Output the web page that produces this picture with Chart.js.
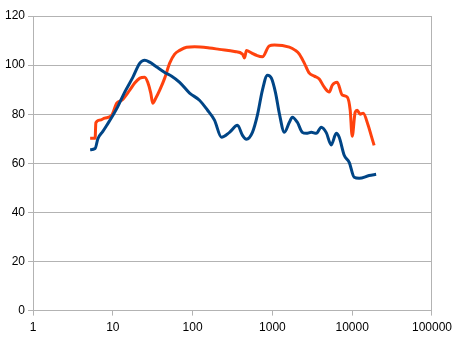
<!DOCTYPE html>
<html>
<head>
<meta charset="utf-8">
<script src="https://cdn.jsdelivr.net/npm/chart.js@4"></script>
<style>
  html, body { margin: 0; padding: 0; background: #fff; }
  #wrap { width: 457px; height: 340px; position: relative; }
</style>
</head>
<body>
<div id="wrap"><canvas id="chart"></canvas></div>
<script>
// frequency (x) / level (y) pairs
const blueFreq = [5.2, 6.0, 6.5, 7.5, 8.4, 9.2, 11.5, 14.1, 17.8, 21.8, 25.1, 29.0, 35.5, 44.7, 54.7, 68.8, 91.7, 122, 154, 188, 230, 290, 365, 422, 473, 562, 649, 750, 866, 972, 1097, 1220, 1413, 1632, 1778, 2054, 2371, 2660, 3073, 3548, 4097, 4732, 5464, 6310, 6879, 7943, 9173, 10593, 12232, 16312, 19953];
const blueValues = [65.5, 66, 70, 73, 75.5, 77.5, 83, 89, 95, 100.8, 102, 101.2, 99.2, 97, 95.5, 93, 88.6, 85.7, 81.6, 77.6, 70.6, 72.6, 75.5, 71.4, 69.8, 72.6, 79.6, 89.8, 95.9, 94.7, 88.6, 80.4, 72.6, 76.7, 78.8, 76.7, 72.6, 72.2, 72.6, 72.2, 74.7, 72.5, 67.5, 72.2, 70.6, 63.3, 60.4, 54.3, 53.9, 55, 55.5];

const orangeFreq = [5.2, 6.0, 6.13, 6.9, 7.9, 9.7, 11.2, 13.0, 16.3, 18.8, 21.8, 25.1, 27.4, 29.9, 31.6, 34.5, 38.7, 44.7, 51.6, 59.6, 68.8, 84, 106, 163, 217, 335, 422, 447, 473, 546, 631, 750, 910, 1059, 1632, 1940, 2175, 2512, 2901, 3350, 3868, 4467, 5158, 5623, 6494, 7499, 8660, 9441, 10000, 10900, 11548, 12589, 13725, 15849, 17278, 18836];
const orangeValues = [70.2, 70.2, 76.5, 77.6, 78.4, 79.6, 84.5, 85.7, 89.8, 92.7, 94.7, 95.1, 93, 88.6, 84.5, 86.5, 89.8, 94.7, 100.8, 104.5, 106, 107.3, 107.5, 107, 106.4, 105.5, 104.5, 102.9, 105.9, 105, 104, 103.4, 107.8, 108.2, 107.3, 106, 104.5, 100.8, 96.7, 95.5, 94.3, 91, 89, 91.8, 93, 87.8, 87, 81.6, 71, 80.8, 81.6, 80, 80.4, 75.5, 71.4, 67.3];

const xTicks = [1, 10, 100, 1000, 10000, 100000];
const yMin = 0, yMax = 120, yStep = 20;

const toPoints = (xs, ys) => xs.map((x, i) => ({ x: x, y: ys[i] }));
const gridGray = '#b3b3b3';

new Chart(document.getElementById('chart'), {
    type: 'line',
    data: {
        datasets: [
            {
                data: toPoints(blueFreq, blueValues),
                borderColor: '#004586',
                borderWidth: 3,
                pointRadius: 0,
                cubicInterpolationMode: 'monotone',
                fill: false
            },
            {
                data: toPoints(orangeFreq, orangeValues),
                borderColor: '#ff420e',
                borderWidth: 3,
                pointRadius: 0,
                cubicInterpolationMode: 'monotone',
                fill: false
            }
        ]
    },
    options: {
        responsive: true,
        maintainAspectRatio: false,
        animation: false,
        layout: { padding: { left: 2, top: 16, right: 24, bottom: 0 } },
        plugins: {
            legend: { display: false },
            tooltip: { enabled: false }
        },
        scales: {
            x: {
                type: 'logarithmic',
                min: 1,
                max: 100000,
                afterBuildTicks: (axis) => {
                    axis.ticks = xTicks.map(v => ({ value: v }));
                },
                ticks: {
                    color: '#000',
                    font: { family: 'Liberation Sans', size: 12 },
                    padding: 5,
                    maxRotation: 0,
                    autoSkip: false,
                    callback: (v) => String(v)
                },
                grid: {
                    color: (ctx) => (ctx.tick && ctx.tick.value === 100000) ? gridGray : 'rgba(0,0,0,0)',
                    tickColor: gridGray,
                    tickLength: 5,
                    lineWidth: 1
                },
                border: { color: gridGray, width: 1 }
            },
            y: {
                min: yMin,
                max: yMax,
                ticks: {
                    stepSize: yStep,
                    color: '#000',
                    font: { family: 'Liberation Sans', size: 12 },
                    padding: 3
                },
                grid: {
                    color: gridGray,
                    tickColor: gridGray,
                    tickLength: 5,
                    lineWidth: 1
                },
                border: { color: gridGray, width: 1 }
            }
        }
    }
});
</script>
</body>
</html>
